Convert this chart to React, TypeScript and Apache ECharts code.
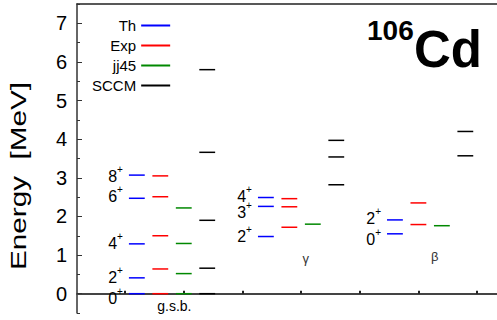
import React, { useEffect, useRef } from 'react';
import * as echarts from 'echarts';

// ---- data ----
const models = ['Th', 'Exp', 'jj45', 'SCCM'];
const modelColors = ['#0000ff', '#ff0000', '#008800', '#000000'];
const modelOffset = [0, 0.4, 0.8, 1.2];

const bands = ['g.s.b.', 'γ', 'β'];
const bandX = [1.2, 3.4, 5.6];
const bandLabelX = [1.84, 4.08, 6.28];
const bandLabelE = [-0.31, 0.92, 0.96];

const gsbSpins = ['0', '2', '4', '6', '8'];
const gammaSpins = ['2', '3', '4'];
const betaSpins = ['0', '2'];

const thGsb = [0, 0.41, 1.29, 2.47, 3.07];
const expGsb = [0, 0.64, 1.5, 2.51, 3.05];
const jjGsb = [0, 0.52, 1.3, 2.22];
const sccmGsb = [0, 0.66, 1.9, 3.66, 5.8];

const thGamma = [1.48, 2.26, 2.49];
const expGamma = [1.72, 2.25, 2.46];
const jjGamma = [1.8];
const sccmGamma = [2.82, 3.54, 3.97];

const thBeta = [1.55, 1.91];
const expBeta = [1.79, 2.35];
const jjBeta = [1.76];
const sccmBeta = [3.57, 4.2];

const yTicks = [0, 1, 2, 3, 4, 5, 6, 7];
const yMinorTicks = [-0.5, 0.5, 1.5, 2.5, 3.5, 4.5, 5.5, 6.5, 7.5];
const xTicks = [1, 2, 3, 4, 5, 6, 7];

// ---- style ----
const FONT = '"Liberation Sans", Arial, Helvetica, sans-serif';
const HW = 0.135;
// pixel nudges for the spin labels so close-lying labels do not collide
const spinNudge = [
  [-1, -6, -6.5, -8, -5],
  [-6, 0, -7],
  [0, -7],
];

const modelLevels = [
  [thGsb, thGamma, thBeta],
  [expGsb, expGamma, expBeta],
  [jjGsb, jjGamma, jjBeta],
  [sccmGsb, sccmGamma, sccmBeta],
];
const spinLabels = [gsbSpins, gammaSpins, betaSpins];

function buildSeries(): any[] {
  const out: any[] = [];
  models.forEach((name, m) => {
    const data: number[][] = [];
    const labels: string[] = [];
    const nudges: number[] = [];
    modelLevels[m].forEach((arr, b) => {
      arr.forEach((e, i) => {
        data.push([bandX[b] + modelOffset[m], e]);
        labels.push(m === 0 ? spinLabels[b][i] : '');
        nudges.push(m === 0 ? spinNudge[b][i] : 0);
      });
    });
    const color = modelColors[m];
    out.push({
      name,
      type: 'custom',
      xAxisIndex: 0,
      yAxisIndex: 0,
      itemStyle: { color },
      encode: { x: 0, y: 1 },
      data,
      renderItem: (params: any, api: any) => {
        const x = api.value(0);
        const e = api.value(1);
        const a = api.coord([x - HW, e]);
        const c = api.coord([x + HW, e]);
        const children: any[] = [
          {
            type: 'line',
            shape: { x1: a[0], y1: a[1], x2: c[0], y2: c[1] },
            style: { stroke: color, lineWidth: 1.5 },
          },
        ];
        const lab = labels[params.dataIndex];
        if (lab) {
          children.push({
            type: 'text',
            style: {
              text: `{d|${lab}}{s|+}`,
              x: a[0] - 6,
              y: a[1] + nudges[params.dataIndex],
              align: 'right',
              verticalAlign: 'middle',
              rich: {
                d: { fontSize: 16, fontFamily: FONT, fill: '#000', lineHeight: 12, padding: [4, 0, 0, 0], verticalAlign: 'top' },
                s: { fontSize: 10, fontFamily: FONT, fill: '#000', lineHeight: 8, padding: [0, 0, 8, 0], verticalAlign: 'top' },
              },
            },
          });
        }
        return { type: 'group', children };
      },
    });
  });
  out.push({
    name: 'bands',
    type: 'custom',
    xAxisIndex: 0,
    yAxisIndex: 0,
    encode: { x: 0, y: 1 },
    data: bands.map((_, b) => [bandLabelX[b], bandLabelE[b]]),
    renderItem: (params: any, api: any) => {
      const p = api.coord([api.value(0), api.value(1)]);
      const idx = params.dataIndex;
      return {
        type: 'text',
        style: {
          text: bands[idx],
          x: p[0],
          y: p[1],
          align: 'center',
          verticalAlign: 'middle',
          fontSize: idx === 0 ? 14 : 13,
          fontFamily: FONT,
          fill: idx === 0 ? '#000' : '#333',
        },
      };
    },
  });
  return out;
}

export default function App() {
  const ref = useRef<HTMLDivElement>(null);
  useEffect(() => {
    if (!ref.current) return;
    const chart = echarts.init(ref.current, undefined, { renderer: 'svg' });
    const option: any = {
      animation: false,
      backgroundColor: '#fff',
      textStyle: { fontFamily: FONT },
      grid: { left: 77, top: 4, right: 0, bottom: 7 },
      xAxis: [
        {
          type: 'value',
          position: 'bottom',
          min: 0.18,
          max: 7.34,
          axisLine: { show: true, lineStyle: { color: '#444', width: 2 } },
          axisTick: { show: true, inside: true, length: 3, customValues: xTicks, lineStyle: { color: '#222', width: 2 } },
          axisLabel: { show: false },
          splitLine: { show: false },
        },
        {
          type: 'value',
          position: 'top',
          min: 0.18,
          max: 7.34,
          axisLine: { show: true, onZero: false, lineStyle: { color: '#222', width: 1.5 } },
          axisTick: { show: false },
          axisLabel: { show: false },
          splitLine: { show: false },
        },
      ],
      yAxis: [
        {
          type: 'value',
          position: 'left',
          min: -0.5,
          max: 7.5,
          axisLine: { show: true, onZero: false, lineStyle: { color: '#333', width: 1.5 } },
          axisTick: { show: true, inside: true, length: 5, customValues: yTicks, lineStyle: { color: '#333', width: 1 } },
          axisLabel: { show: true, customValues: yTicks, fontSize: 20, color: '#000', margin: 10, fontFamily: FONT },
          splitLine: { show: false },
        },
        {
          type: 'value',
          position: 'left',
          min: -0.5,
          max: 7.5,
          axisLine: { show: false },
          axisTick: { show: true, inside: true, length: 3, customValues: yMinorTicks, lineStyle: { color: '#333', width: 1 } },
          axisLabel: { show: false },
          splitLine: { show: false },
        },
      ],
      legend: {
        orient: 'vertical',
        align: 'right',
        left: 87,
        top: 13,
        itemWidth: 29,
        itemHeight: 2,
        itemGap: 5,
        icon: 'rect',
        data: models,
        textStyle: { fontSize: 15, color: '#000', fontFamily: FONT },
        selectedMode: false,
      },
      graphic: [
        {
          type: 'text',
          x: 18,
          y: 176,
          rotation: Math.PI / 2,
          scaleX: 1.35,
          style: {
            text: 'Energy  [MeV]',
            fontSize: 22,
            fontFamily: FONT,
            fill: '#000',
            align: 'center',
            verticalAlign: 'middle',
          },
        },
        {
          type: 'text',
          x: 367,
          y: 16,
          style: { text: '106', fontSize: 28, fontWeight: 'bold', fontFamily: FONT, fill: '#000', align: 'left', verticalAlign: 'top' },
        },
        {
          type: 'text',
          x: 414,
          y: 24,
          style: { text: 'Cd', fontSize: 51, fontWeight: 'bold', fontFamily: FONT, fill: '#000', align: 'left', verticalAlign: 'top' },
        },
      ],
      series: buildSeries(),
    };
    chart.setOption(option);
    return () => chart.dispose();
  }, []);
  return <div ref={ref} style={{ position: 'absolute', left: 0, top: 0, width: 497, height: 320 }} />;
}
